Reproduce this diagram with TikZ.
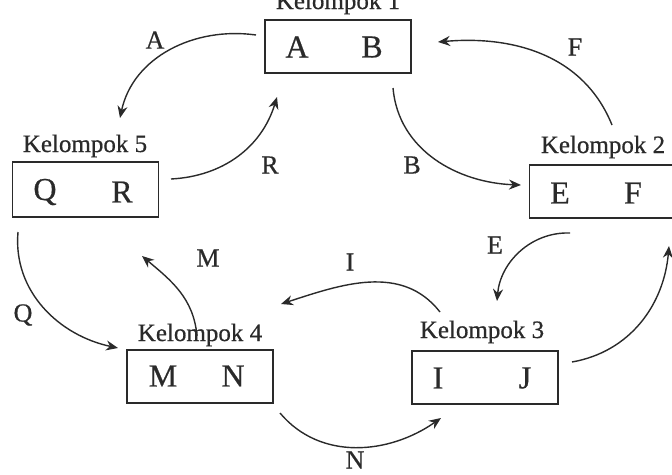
\documentclass[tikz,border=0pt]{standalone}
\usepackage{fontspec}
\setmainfont{Liberation Serif}[FakeBold=0.6]
\usetikzlibrary{arrows.meta}
\definecolor{ink}{HTML}{2A2A2A}
\begin{document}
\begin{tikzpicture}[x=1pt,y=1pt,
  box/.style={draw=ink,line width=1.5pt,minimum width=146pt,minimum height=53pt,inner sep=0pt},
  inbox/.style={font=\fontsize{32}{36}\selectfont,text=ink,inner sep=0pt},
  grp/.style={font=\fontsize{25}{29}\selectfont,text=ink,anchor=base,inner sep=0pt},
  lbl/.style={font=\fontsize{26}{30}\selectfont,text=ink,inner sep=0pt},
  flow/.style={draw=ink,line width=1.4pt,-{Stealth[length=12pt,width=10pt]}}]
\useasboundingbox (0,0) rectangle (672,-474);
\clip (0,0) rectangle (672,-474);
% boxes
\node[box] (b1) at (338,-46.5) {};
\node[box,minimum height=55pt] (b5) at (85.5,-189.5) {};
\node[box] (b2) at (602.5,-191.5) {};
\node[box] (b4) at (200,-376.5) {};
\node[box] (b3) at (485,-377.5) {};
% group labels
\node[grp] (g1) at (338,-9) {Kelompok 1};
\node[grp] (g5) at (85,-152) {Kelompok 5};
\node[grp] (g2) at (603,-153) {Kelompok 2};
\node[grp] (g4) at (200,-341) {Kelompok 4};
\node[grp] (g3) at (482,-338) {Kelompok 3};
% letters in boxes
\node[inbox] (lA) at (297,-47) {A};
\node[inbox] (lB) at (372,-47) {B};
\node[inbox] (lQ) at (45,-192) {Q};
\node[inbox] (lR) at (122,-192) {R};
\node[inbox] (lE) at (560,-193) {E};
\node[inbox] (lF) at (633,-193) {F};
\node[inbox] (lM) at (163,-376) {M};
\node[inbox] (lN) at (233,-376) {N};
\node[inbox] (lI) at (438,-378) {I};
\node[inbox] (lJ) at (525,-378) {J};
% connector end points
\coordinate (a1) at (256,-35);  \coordinate (a2) at (120,-118);
\coordinate (r1) at (171,-179); \coordinate (r2) at (277,-97);
\coordinate (bb1) at (393,-88); \coordinate (bb2) at (521,-185);
\coordinate (f1) at (612,-125); \coordinate (f2) at (438,-42);
\coordinate (e1) at (570,-233); \coordinate (e2) at (497,-301);
\coordinate (j1) at (572,-362); \coordinate (j2) at (669,-246);
\coordinate (i1) at (440,-312); \coordinate (i2) at (281,-304);
\coordinate (m1) at (197,-336); \coordinate (m2) at (142,-256);
\coordinate (q1) at (18,-232);  \coordinate (q2) at (118,-348);
\coordinate (n1) at (280,-413); \coordinate (n2) at (441,-418);
% connectors
\draw[flow] (a1) to[out=172,in=78] (a2);
\draw[flow] (r1) to[out=3,in=253] (r2);
\draw[flow] (bb1) to[out=-85,in=178] (bb2);
\draw[flow] (f1) to[out=112,in=5] (f2);
\draw[flow] (e1) to[out=178,in=85] (e2);
\draw[flow] (j1) to[out=10,in=265] (j2);
\draw[flow] (i1) to[out=128,in=18] (i2);
\draw[flow] (m1) to[out=95,in=320] (m2);
\draw[flow] (q1) to[out=-95,in=168] (q2);
\draw[flow] (n1) to[out=-50,in=215] (n2);
% connector labels
\node[lbl] (tA) at (155,-40) {A};
\node[lbl] (tR) at (270,-165) {R};
\node[lbl] (tB) at (412,-165) {B};
\node[lbl] (tF) at (575,-47) {F};
\node[lbl] (tE) at (495,-245) {E};
\node[lbl] (tJ) at (677,-335) {J};
\node[lbl] (tI) at (350,-262) {I};
\node[lbl] (tM) at (208,-258) {M};
\node[lbl] (tQ) at (23,-315) {Q};
\node[lbl] (tN) at (355,-460) {N};
\end{tikzpicture}
\end{document}
